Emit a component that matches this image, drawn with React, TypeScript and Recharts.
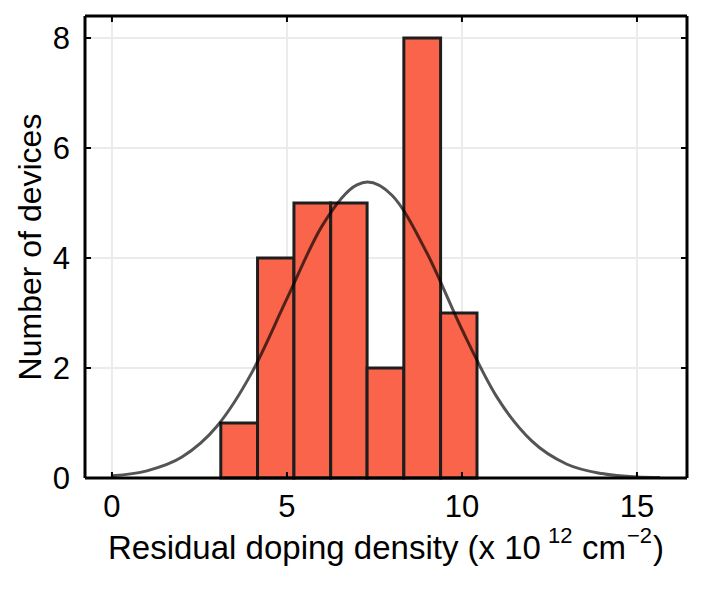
import React from "react";
import {
  CartesianGrid,
  ComposedChart,
  Line,
  ReferenceArea,
  XAxis,
  YAxis,
} from "recharts";

// histogram bins (x 10^12 cm^-2) and counts
const binEdges = [3.11, 4.16, 5.2, 6.25, 7.29, 8.34, 9.39, 10.43];
const binCounts = [1, 4, 5, 5, 2, 8, 3];

// fitted normal curve, sampled from the figure
const fitX = [0, 1, 2, 3, 4, 5, 6, 7, 7.3, 8, 9, 10, 11, 12, 13, 14, 15, 15.66];
const fitY = [0.04, 0.13, 0.38, 0.94, 1.92, 3.26, 4.58, 5.33, 5.38, 5.14, 4.09, 2.7, 1.47, 0.67, 0.25, 0.08, 0.02, 0.01];

const xTicks = [0, 5, 10, 15];
const yTicks = [0, 2, 4, 6, 8];
const xDomain = [-0.77, 16.43];
const yDomain = [0, 8.4];

const fitData = fitX.map((x, i) => ({ x, y: fitY[i] }));
const bins = binCounts.map((count, i) => ({
  x1: binEdges[i],
  x2: binEdges[i + 1],
  count,
}));

const FONT = "'Liberation Sans', Arial, sans-serif";
const tickStyle = { fontSize: 31, fill: "#000", fontFamily: FONT };
const axisLine = { stroke: "#000", strokeWidth: 3 };
const tickLine = { stroke: "#000", strokeWidth: 2 };
const noLabel = () => <g />;

function XLabel() {
  return (
    <text y={551} fontFamily={FONT} fontSize={33} fill="#000">
      <tspan x={100}>Residual doping density (x 10</tspan>
      <tspan x={540} y={535} fontSize={22}>12</tspan>
      <tspan x={574} y={551}>cm</tspan>
      <tspan x={619} y={535} fontSize={22}>−2</tspan>
      <tspan x={645} y={551}>)</tspan>
    </text>
  );
}

function YLabel() {
  const cx = 22;
  const cy = 239;
  return (
    <text
      x={cx}
      y={cy}
      transform={`rotate(-90 ${cx} ${cy})`}
      textAnchor="middle"
      dominantBaseline="central"
      fontFamily={FONT}
      fontSize={32}
      fill="#000"
    >
      Number of devices
    </text>
  );
}

export default function App() {
  return (
    <div style={{ width: 693, height: 588 }}>
      <ComposedChart
        width={693}
        height={588}
        data={fitData}
        margin={{ top: 7, right: 13, bottom: 0, left: 0 }}
      >
        <CartesianGrid stroke="#ebebeb" strokeWidth={2} />
        <XAxis
          dataKey="x"
          type="number"
          domain={xDomain}
          ticks={xTicks}
          allowDataOverflow
          height={118}
          axisLine={axisLine}
          tickLine={tickLine}
          tickSize={-6}
          tickMargin={23}
          tick={tickStyle}
          label={<XLabel />}
        />
        <XAxis
          xAxisId="top"
          orientation="top"
          dataKey="x"
          type="number"
          domain={xDomain}
          ticks={xTicks}
          allowDataOverflow
          height={1}
          axisLine={axisLine}
          tickLine={tickLine}
          tickSize={-6}
          tick={noLabel}
        />
        <YAxis
          type="number"
          domain={yDomain}
          ticks={yTicks}
          allowDataOverflow
          width={77}
          axisLine={axisLine}
          tickLine={tickLine}
          tickSize={-6}
          tickMargin={21}
          tick={tickStyle}
          label={<YLabel />}
        />
        <YAxis
          yAxisId="right"
          orientation="right"
          type="number"
          domain={yDomain}
          ticks={yTicks}
          allowDataOverflow
          width={1}
          axisLine={axisLine}
          tickLine={tickLine}
          tickSize={-6}
          tick={noLabel}
        />
        {bins.map((b, i) => (
          <ReferenceArea
            key={i}
            x1={b.x1}
            x2={b.x2}
            y1={0}
            y2={b.count}
            fill="#f9644a"
            fillOpacity={1}
            stroke="#1e1e1e"
            strokeWidth={3}
            ifOverflow="visible"
          />
        ))}
        <Line
          dataKey="y"
          type="monotone"
          stroke="#000"
          strokeOpacity={0.67}
          strokeWidth={3}
          dot={false}
          isAnimationActive={false}
        />
      </ComposedChart>
    </div>
  );
}
